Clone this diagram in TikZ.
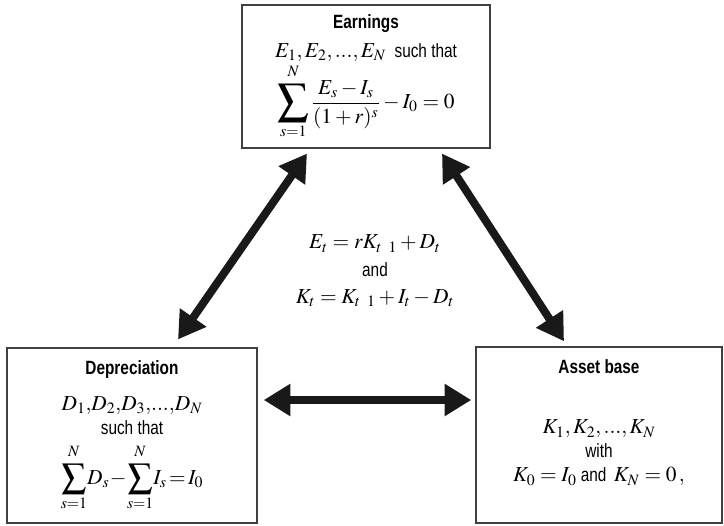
\documentclass[tikz,border=0pt]{standalone}
\usepackage{amsmath,mathptmx,graphicx}
\usepackage[no-math]{fontspec}
\setmainfont{Liberation Sans}[FakeStretch=0.8,Scale=0.9]
\usetikzlibrary{arrows.meta,calc}
\newcommand{\bigsum}[1]{\mathop{\vcenter{\hbox{\scalebox{#1}{$\displaystyle\sum$}}}}\limits}
\newcommand{\up}{\rule[-4pt]{0pt}{0pt}}

\begin{document}
\begin{tikzpicture}[x=0.75pt,y=-0.75pt,
  box/.style={draw=black!75,line width=1.1pt,align=center,inner sep=0pt,font=\fontsize{16}{20}\selectfont},
  mid/.style={align=center,font=\fontsize{16}{20.5}\selectfont},
  dbl/.style={{Triangle[length=20pt,width=23pt]}-{Triangle[length=20pt,width=23pt]},line width=6pt,black!90}]
\useasboundingbox (0,0) rectangle (724,525);
\node[box,minimum width=186pt,minimum height=107pt] (earn) at (366,76.5)
  {\textbf{Earnings}\\[2pt]
   $E_1, E_2 ,..., E_N$ \ such that\\[1pt]
   $\displaystyle\bigsum{1.45}_{s=1}^{N\up}\frac{E_s-I_s}{(1+r)^s}-I_0=0$};
\node[box,minimum width=187.5pt,minimum height=131pt] (dep) at (132,435.5)
  {\textbf{Depreciation}\\[7pt]
   $D_1,\!D_2,\!D_3,\!...,\!D_N$\\[-2pt]
   such that\\[6pt]
   $\displaystyle\bigsum{1.15}_{s=1}^{N\up}\!D_s\!-\!\bigsum{1.15}_{s=1}^{N\up}\!I_s\!=\!I_0$};
\node[box,minimum width=184.5pt,minimum height=132pt] (asset) at (599,435)
  {\textbf{Asset base}\\[25pt]
   $K_1, K_2 ,..., K_N$\\[-2pt]
   with\\[-2pt]
   $K_0=I_0$ and \,$K_N=0\,,$\\[1pt]\mbox{}};
\node[mid] (rel) at (375,271)
  {$E_t=rK_{t\;\;1}+D_t$\\
   and\\
   $K_t=K_{t\;\;1}+I_t-D_t$};
\draw[dbl] ($(earn.south)+(-59,5)$) -- ($(dep.north)+(46,-8)$);
\draw[dbl] ($(earn.south)+(76,5)$) -- ($(asset.north)+(-35,-5)$);
\draw[dbl] ($(dep.east)+(6,-35.5)$) -- ($(asset.west)+(-4,-35)$);
\end{tikzpicture}
\end{document}
